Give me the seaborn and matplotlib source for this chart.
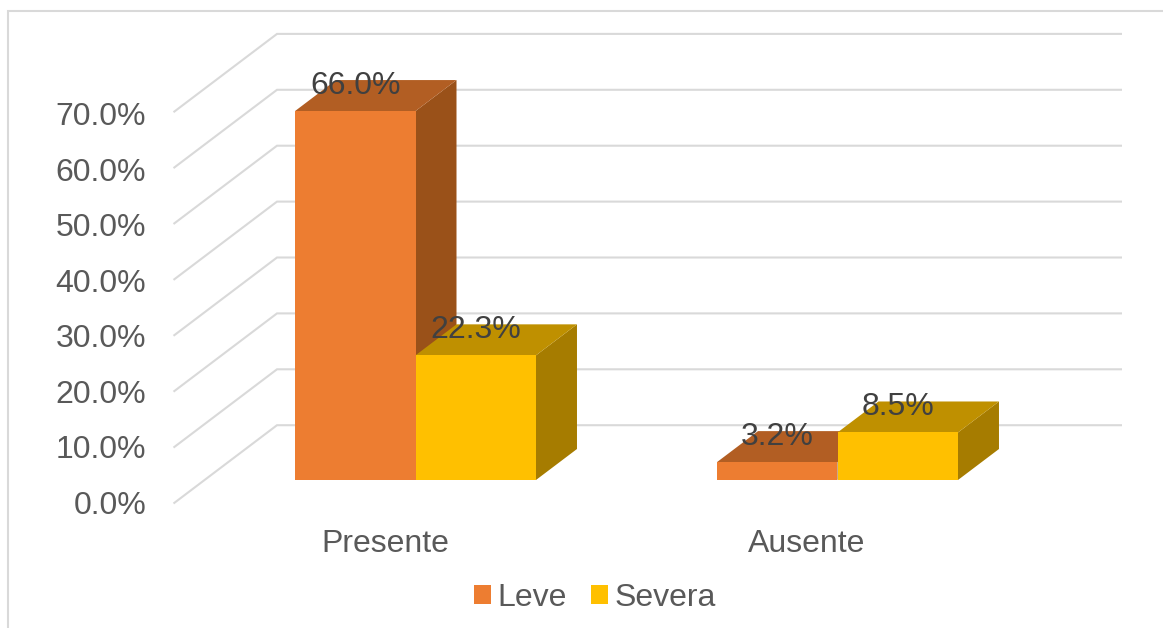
import matplotlib
matplotlib.use("Agg")
import matplotlib.pyplot as plt
from matplotlib.patches import Polygon
import pandas as pd
import seaborn as sns

# Survey results by condition and severity
condiciones = ["Presente", "Presente", "Ausente", "Ausente"]
grados = ["Leve", "Severa", "Leve", "Severa"]
porcentajes = [66.0, 22.3, 3.2, 8.5]
etiquetas = ["66.0%", "22.3%", "3.2%", "8.5%"]
marcas_y = [0, 10, 20, 30, 40, 50, 60, 70]
categorias = ["Presente", "Ausente"]
niveles = ["Leve", "Severa"]

W, H = 1163, 628
PX_X = 422.0        # pixels per category step
PX_Y = 5.59         # pixels per percentage point
X0, Y0 = 415.5, 480.0

def dx(px):
    return px / PX_X

def dy(px):
    return px / PX_Y

def x_data(px):
    return (px - X0) / PX_X

def y_data(py):
    return (Y0 - py) / PX_Y

COLORES = {"Leve": "#ED7D31", "Severa": "#FFC000"}
LATERAL = {"Leve": "#9A5119", "Severa": "#A67C00"}
SUPERIOR = {"Leve": "#B25E23", "Severa": "#BF9000"}
GRID = "#D9D9D9"
FUENTE = "Liberation Sans"
TAM = 23

sns.set_theme(style="white")
plt.rcParams["font.family"] = [FUENTE, "DejaVu Sans"]

fig = plt.figure(figsize=(W / 100, H / 100), dpi=100)
ax = fig.add_axes([0, 0, 1, 1])

tabla = pd.DataFrame({"Condicion": condiciones, "Grado": grados, "Porcentaje": porcentajes})
sns.barplot(data=tabla, x="Condicion", y="Porcentaje", hue="Grado", order=categorias,
            hue_order=niveles, palette=COLORES, saturation=1,
            width=0.571, gap=0, linewidth=0, errorbar=None, ax=ax)

ax.set_xlim(x_data(0), x_data(W))
ax.set_ylim(y_data(H), y_data(0))

# Depth of each bar and of the chart floor, in data units
prof_x, prof_y = dx(41), dy(31)
pared_x0, pared_x1, pared_x2 = x_data(173.5), x_data(277), x_data(1122)
pared_y = y_data(503.5)
pared_dy = dy(78.3)

# Gridlines folded along the side wall and the back wall
for v in marcas_y:
    y_frente = pared_y + v
    y_fondo = y_frente + pared_dy
    ax.plot([pared_x0, pared_x1, pared_x2], [y_frente, y_fondo, y_fondo],
            color=GRID, lw=1.5, zorder=1, solid_joinstyle="miter", solid_capstyle="butt")
    # Axis labels run on a slightly tighter pitch than the gridlines
    ax.text(x_data(146), y_data(502.5) + v * 5.557 / PX_Y, f"{v:.1f}%", ha="right",
            va="center_baseline", fontsize=TAM, color="#595959")

# Side and top faces for every bar, stacked so that later bars overlap earlier ones
for n, (cont, grado) in enumerate(zip(ax.containers, niveles)):
    for barra in cont:
        x, w, h = barra.get_x(), barra.get_width(), barra.get_height()
        barra.set_zorder(3 + n)
        barra.set_linewidth(0)
        ax.add_patch(Polygon([(x + w, 0), (x + w + prof_x, prof_y),
                              (x + w + prof_x, h + prof_y), (x + w, h)],
                             closed=True, fc=LATERAL[grado], ec="none", zorder=2.5 + n))
        ax.add_patch(Polygon([(x, h), (x + prof_x, h + prof_y),
                              (x + w + prof_x, h + prof_y), (x + w, h)],
                             closed=True, fc=SUPERIOR[grado], ec="none", zorder=2.5 + n))

# Value labels sit on the top face of each bar
for g, cont in enumerate(ax.containers):
    for c, barra in enumerate(cont):
        k = 2 * c + g
        ax.text(barra.get_x() + barra.get_width() / 2, porcentajes[k] + dy(29),
                etiquetas[k], ha="center", va="center_baseline", fontsize=TAM,
                color="#404040", zorder=10)

for i, nombre in enumerate(categorias):
    ax.text(i + dx(-30.5), y_data(541), nombre, ha="center", va="center_baseline",
            fontsize=TAM, color="#595959")

# Chart area frame, open towards the right and bottom edges
marco_x, marco_y = 8 / W, 1 - 11 / H
ax.plot([marco_x, marco_x, 1], [0, marco_y, marco_y], transform=ax.transAxes,
        color=GRID, lw=1.5, clip_on=False, zorder=1, solid_joinstyle="miter")

sns.move_legend(ax, "center", bbox_to_anchor=(595 / W, 1 - 597.5 / H), bbox_transform=fig.transFigure,
                ncol=2, title=None, frameon=False, fontsize=TAM, labelcolor="#595959",
                handlelength=0.53, handleheight=0.53, handletextpad=0.2, columnspacing=0.75,
                borderpad=0, borderaxespad=0)

ax.set_axis_off()
fig.savefig("out.png", dpi=100, facecolor="white")
